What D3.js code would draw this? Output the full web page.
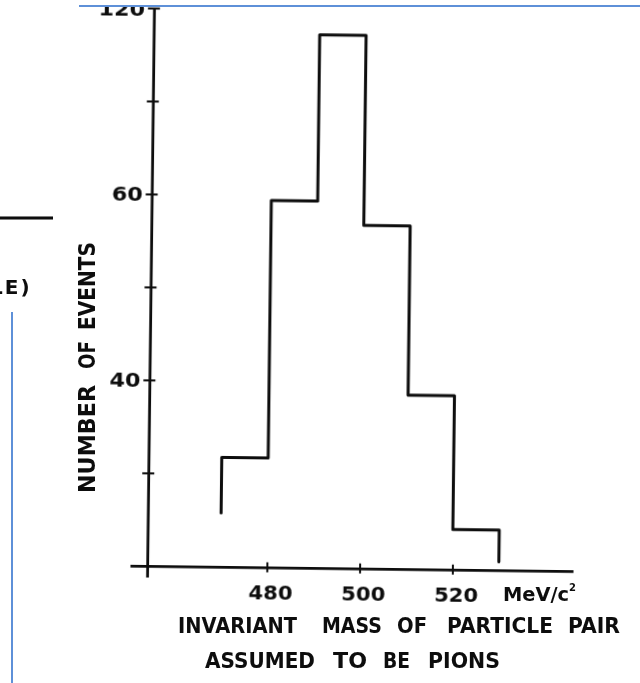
<!DOCTYPE html>
<html>
<head>
<meta charset="utf-8">
<script src="https://cdn.jsdelivr.net/npm/d3@7"></script>
<style>
  html, body { margin: 0; padding: 0; background: #fff; }
  svg { display: block; }
  text { font-family: "DejaVu Sans", sans-serif; font-weight: bold; fill: #0b0b0b; }
</style>
</head>
<body>
<svg id="chart" width="640" height="683"></svg>
<script>
// Histogram of invariant mass of particle pairs (pion hypothesis)
const binEdges = [470, 480, 490, 500, 510, 520, 530];   // MeV/c^2
const counts   = [23.5, 78.9, 114.7, 73.8, 37.4, 8.6];  // events per bin
const penEnds  = [11.6, 1.8];                           // where the outline starts / stops
const xTicks = [480, 500, 520];
const yTicks = [20, 40, 60, 80, 100, 120];
const yTickLabels = ["", "40", "", "60", "", "120"];
const xTitleWords1 = ["INVARIANT", "MASS", "OF", "PARTICLE", "PAIR"];
const xTitleWords2 = ["ASSUMED", "TO", "BE", "PIONS"];
const yTitleWords = ["NUMBER", "OF", "EVENTS"];
const unitLabel = "MeV/c";

// hand-lettered word spans (start, end) in page pixels
const xTitleSpans1 = [[178, 297], [322, 382], [397, 427], [447, 553], [568, 620]];
const xTitleSpans2 = [[205, 315], [333, 367], [383, 410], [428, 500]];
const yTitleSpans  = [[493, 385], [369, 341], [330, 242]];

const svg = d3.select("#chart");
const ink = "#0b0b0b";

// soft scanned-ink look
const defs = svg.append("defs");
defs.append("filter").attr("id", "soft")
  .append("feGaussianBlur").attr("stdDeviation", 0.45);

svg.append("rect").attr("width", 640).attr("height", 683).attr("fill", "#fff");

const x = d3.scaleLinear().domain([450.5, 546]).range([130, 573]);
const y = d3.scaleLinear().domain([-2.4, 120]).range([577, 8]);

const x0 = x(454.2), y0 = y(0);

// the drawing sits slightly askew on the page
const fig = svg.append("g")
  .attr("filter", "url(#soft)")
  .attr("transform", `rotate(0.7, ${x0}, ${y0})`);

// x axis
const xAxis = fig.append("g")
  .attr("transform", `translate(0, ${y0})`)
  .call(d3.axisBottom(x).tickValues(xTicks).tickSizeOuter(0).tickFormat(d3.format("d")));
xAxis.select(".domain").attr("stroke", ink).attr("stroke-width", 2.8);
xAxis.selectAll(".tick line").attr("stroke", ink).attr("stroke-width", 2)
  .attr("y1", -5).attr("y2", 5);
xAxis.selectAll(".tick text")
  .attr("y", 32).attr("dy", null).attr("dx", 3.5)
  .attr("font-size", 20).attr("font-family", "DejaVu Sans").attr("font-weight", "bold")
  .attr("fill", ink).attr("textLength", 44).attr("lengthAdjust", "spacingAndGlyphs");

// y axis
const yAxis = fig.append("g")
  .attr("transform", `translate(${x0}, 0)`)
  .call(d3.axisLeft(y).tickValues(yTicks).tickSizeOuter(0)
    .tickFormat((d, i) => yTickLabels[i]));
yAxis.select(".domain").attr("stroke", ink).attr("stroke-width", 2.8);
yAxis.selectAll(".tick line").attr("stroke", ink).attr("stroke-width", 2)
  .attr("x1", -6).attr("x2", 6);
yAxis.selectAll(".tick text")
  .attr("x", -9).attr("dy", null).attr("y", 7)
  .attr("font-size", 19).attr("font-family", "DejaVu Sans").attr("font-weight", "bold")
  .attr("fill", ink)
  .each(function (d, i) {
    const s = yTickLabels[i];
    if (s) d3.select(this).attr("textLength", s.length * 15.5).attr("lengthAdjust", "spacingAndGlyphs");
  });

// histogram outline
const pts = [[binEdges[0], penEnds[0]]];
counts.forEach((c, i) => {
  pts.push([binEdges[i], c]);
  pts.push([binEdges[i + 1], c]);
});
pts.push([binEdges[binEdges.length - 1], penEnds[1]]);

fig.append("path")
  .datum(pts)
  .attr("d", d3.line().x(d => x(d[0])).y(d => y(d[1])))
  .attr("fill", "none")
  .attr("stroke", ink)
  .attr("stroke-width", 3)
  .attr("stroke-linejoin", "round")
  .attr("stroke-linecap", "round");

// titles, lettered word by word
const labels = svg.append("g").attr("filter", "url(#soft)");

function wordRow(words, spans, baseline, size) {
  labels.selectAll(null)
    .data(words)
    .join("text")
    .attr("x", (d, i) => spans[i][0])
    .attr("y", baseline)
    .attr("font-size", size)
    .attr("textLength", (d, i) => spans[i][1] - spans[i][0])
    .attr("lengthAdjust", "spacingAndGlyphs")
    .text(d => d);
}
wordRow(xTitleWords1, xTitleSpans1, 633, 22);
wordRow(xTitleWords2, xTitleSpans2, 668, 22);

labels.selectAll(null)
  .data(yTitleWords)
  .join("text")
  .attr("transform", (d, i) => `translate(95, ${yTitleSpans[i][0]}) rotate(-90)`)
  .attr("font-size", 22.5)
  .attr("textLength", (d, i) => yTitleSpans[i][0] - yTitleSpans[i][1])
  .attr("lengthAdjust", "spacingAndGlyphs")
  .text(d => d);

labels.append("text")
  .attr("x", 503).attr("y", 601)
  .attr("font-size", 19.5)
  .attr("textLength", 66).attr("lengthAdjust", "spacingAndGlyphs")
  .text(unitLabel);
labels.append("text")
  .attr("x", 569).attr("y", 591)
  .attr("font-size", 10)
  .text("2");

// neighbouring page edge
labels.append("line")
  .attr("x1", 0).attr("x2", 53).attr("y1", 218).attr("y2", 218)
  .attr("stroke", ink).attr("stroke-width", 3);
labels.append("text")
  .attr("x", -10).attr("y", 294)
  .attr("font-size", 20)
  .attr("letter-spacing", 2)
  .text("LE)");

// page border above the figure and frame lines
svg.append("rect").attr("x", 0).attr("y", 0).attr("width", 640).attr("height", 6).attr("fill", "#fff");
svg.append("line")
  .attr("x1", 79).attr("x2", 640).attr("y1", 6).attr("y2", 6)
  .attr("stroke", "#5e90d8").attr("stroke-width", 2);
svg.append("line")
  .attr("x1", 12).attr("x2", 12).attr("y1", 312).attr("y2", 683)
  .attr("stroke", "#5e90d8").attr("stroke-width", 2);
</script>
</body>
</html>
